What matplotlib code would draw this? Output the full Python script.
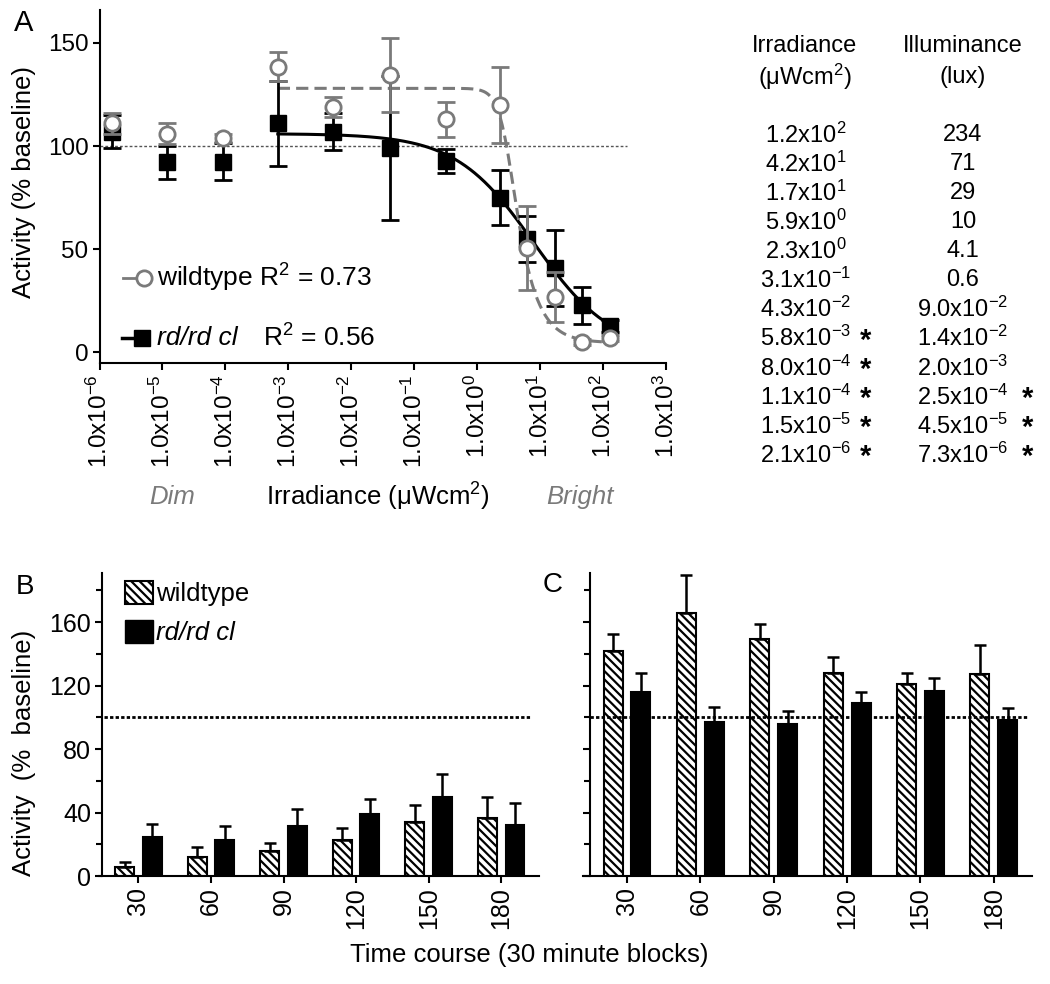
import numpy as np
import matplotlib
matplotlib.use("Agg")
import matplotlib.pyplot as plt
from matplotlib import font_manager
from matplotlib.patches import Patch
from matplotlib.ticker import FixedLocator, NullFormatter, NullLocator

# ---------------- data ----------------
# Panel A: irradiance (x, as plotted), mean activity and error (% baseline)
irradiance = [1.6e-6, 1.2e-5, 9.3e-5, 6.8e-4, 5.2e-3, 4.1e-2, 3.2e-1, 2.3, 6.3, 1.7e1, 4.7e1, 1.29e2]
wt_mean = [111, 106, 104, 138.5, 119, 134.5, 113, 120, 50.4, 26.8, 5, 6.7]
wt_err = [5, 5, 2, 7, 5, 18, 8.5, 18.5, 20.5, 12, 1.5, 1.5]
rd_mean = [107, 92, 92.4, 111, 107, 99, 92.7, 75, 54.8, 40.7, 22.8, 12.6]
rd_err = [8, 8, 9, 20.5, 9, 35, 6, 13.5, 11, 18.5, 9, 3]
# fitted dose-response curves (top, bottom, log EC50, Hill slope, asymmetry)
wt_fit = dict(top=128, bottom=4.5, logec50=0.478, hill=4.0, asym=0.4)
rd_fit = dict(top=106, bottom=0, logec50=0.9, hill=0.7, asym=1.0)
wt_r2 = "0.73"
rd_r2 = "0.56"

table_irr = ["1.2x10$^{2}$", "4.2x10$^{1}$", "1.7x10$^{1}$", "5.9x10$^{0}$", "2.3x10$^{0}$",
             "3.1x10$^{-1}$", "4.3x10$^{-2}$", "5.8x10$^{-3}$", "8.0x10$^{-4}$",
             "1.1x10$^{-4}$", "1.5x10$^{-5}$", "2.1x10$^{-6}$"]
table_lux = ["234", "71", "29", "10", "4.1", "0.6", "9.0x10$^{-2}$", "1.4x10$^{-2}$",
             "2.0x10$^{-3}$", "2.5x10$^{-4}$", "4.5x10$^{-5}$", "7.3x10$^{-6}$"]
irr_star = [False] * 7 + [True] * 5
lux_star = [False] * 9 + [True] * 3

time_blocks = ["30", "60", "90", "120", "150", "180"]
B_wt = [5.9, 12.2, 15.7, 22.7, 34, 36.7]
B_wt_err = [3.1, 5.8, 5.3, 7.3, 10.7, 12.9]
B_rd = [24.4, 22.7, 31.7, 39, 49.6, 31.9]
B_rd_err = [8.4, 8.8, 10.3, 9.3, 14.7, 13.9]
C_wt = [141.8, 165.9, 149.2, 128.2, 121.3, 127.2]
C_wt_err = [10.9, 24.1, 9.4, 9.8, 6.9, 18.4]
C_rd = [116.3, 97.3, 95.8, 109, 116.7, 98.5]
C_rd_err = [11.9, 9.4, 8.0, 6.7, 8.0, 7.4]

# ---------------- fonts ----------------
def has_font(name):
    try:
        font_manager.findfont(font_manager.FontProperties(family=name), fallback_to_default=False)
        return True
    except Exception:
        return False

BASE = "Liberation Sans" if has_font("Liberation Sans") else "DejaVu Sans"
plt.rcParams['font.family'] = [BASE, 'DejaVu Sans']
plt.rcParams['mathtext.fontset'] = 'custom'
plt.rcParams['mathtext.rm'] = BASE
plt.rcParams['mathtext.it'] = BASE + ':italic'
plt.rcParams['mathtext.bf'] = BASE + ':bold'
plt.rcParams['hatch.linewidth'] = 1.6
plt.rcParams['axes.linewidth'] = 1.5

W, H = 1050, 984
fig = plt.figure(figsize=(W / 100, H / 100), dpi=100)

def fx(px):
    return px / W

def fy(py):
    return 1 - py / H

GRAY = '#7a7a7a'

# ---------------- Panel A ----------------
axA = fig.add_axes([fx(99.5), fy(363), fx(566.5), 353 / H])
axA.set_xscale('log')
axA.set_xlim(1e-6, 1e3)
axA.set_ylim(-5.3, 166)
for s in ['top', 'right']:
    axA.spines[s].set_visible(False)

axA.hlines(100, 1e-6, 10 ** 2.38, colors='#555555', linestyles=(0, (2, 1.5)), linewidth=1.0, zorder=1)

def dose_response(logx, p):
    u = 10 ** ((logx - p['logec50']) * p['hill'])
    return p['bottom'] + (p['top'] - p['bottom']) * (1 + u) ** (-p['asym'])

lx = np.linspace(np.log10(irradiance[3]), np.log10(irradiance[-1]) + 0.03, 400)
axA.plot(10 ** lx, dose_response(lx, rd_fit), color='black', lw=2.2, zorder=3)
axA.plot(10 ** lx, dose_response(lx, wt_fit), color=GRAY, lw=2.2, ls=(0, (4, 2)), zorder=3)

axA.errorbar(irradiance, rd_mean, yerr=rd_err, fmt='s', color='black', ms=12,
             capsize=6.5, capthick=2, elinewidth=2, zorder=4)
axA.errorbar(irradiance, wt_mean, yerr=wt_err, fmt='o', color=GRAY, mfc='white', mec=GRAY,
             mew=2, ms=11, capsize=6.5, capthick=2, elinewidth=2, zorder=5)

axA.set_yticks([0, 50, 100, 150])
axA.xaxis.set_major_locator(FixedLocator([10.0 ** k for k in range(-6, 4)]))
axA.xaxis.set_minor_locator(NullLocator())
axA.set_xticklabels([r'1.0x10$^{%d}$' % k for k in range(-6, 4)], rotation=90, fontsize=17.5)
axA.tick_params(axis='both', direction='out', length=5, width=1.5, pad=3)
axA.tick_params(axis='y', labelsize=17.5)

axA.set_ylabel("Activity (% baseline)", fontsize=18.5)
axA.yaxis.set_label_coords(-0.133, 0.513)
axA.yaxis.label.set_verticalalignment('center')

# legend inside A (manual, in axes coordinates)
def ax_x(px):
    return (px - 99.5) / 566.5

def ax_y(py):
    return (363 - py) / 353

yl1, yl2 = ax_y(278), ax_y(338)
axA.plot([ax_x(123), ax_x(144)], [yl1, yl1], transform=axA.transAxes, color=GRAY, lw=2, zorder=6)
axA.plot([ax_x(144)], [yl1], transform=axA.transAxes, marker='o', ms=11, mfc='white', mec=GRAY, mew=2, zorder=7)
axA.text(ax_x(157), yl1, "wildtype R$^{2}$ = " + wt_r2, transform=axA.transAxes, fontsize=19,
         va='center', ha='left')
axA.plot([ax_x(122), ax_x(142)], [yl2, yl2], transform=axA.transAxes, color='black', lw=2.5, zorder=6)
axA.plot([ax_x(142)], [yl2], transform=axA.transAxes, marker='s', ms=12, color='black', zorder=7)
axA.text(ax_x(157), yl2, "rd/rd cl", transform=axA.transAxes, fontsize=19,
         style='italic', va='center', ha='left')
axA.text(ax_x(263), yl2, "R$^{2}$ = " + rd_r2, transform=axA.transAxes, fontsize=19,
         va='center', ha='left')

fig.text(fx(172), fy(497), "Dim", fontsize=18.5, style='italic', color=GRAY, ha='center', va='center')
fig.text(fx(378), fy(497), "Irradiance (\u03bcWcm$^{2}$)", fontsize=18.5, ha='center', va='center')
fig.text(fx(580), fy(497), "Bright", fontsize=18.5, style='italic', color=GRAY, ha='center', va='center')
fig.text(fx(24), fy(23), "A", fontsize=21, ha='center', va='center')

# ---------------- Table ----------------
TFS = 17
fig.text(fx(805), fy(46), "Irradiance", fontsize=TFS, ha='center', va='center')
fig.text(fx(805), fy(77), "(\u03bcWcm$^{2}$)", fontsize=TFS, ha='center', va='center')
fig.text(fx(963), fy(46), "Illuminance", fontsize=TFS, ha='center', va='center')
fig.text(fx(963), fy(77), "(lux)", fontsize=TFS, ha='center', va='center')
for i, (a, b) in enumerate(zip(table_irr, table_lux)):
    y = 135 + 29.1 * i
    fig.text(fx(806), fy(y), a, fontsize=TFS, ha='center', va='center')
    fig.text(fx(963), fy(y), b, fontsize=TFS, ha='center', va='center')
    if irr_star[i]:
        fig.text(fx(866), fy(y + 2), "*", fontsize=21, weight='bold', ha='center', va='center')
    if lux_star[i]:
        fig.text(fx(1028), fy(y + 2), "*", fontsize=21, weight='bold', ha='center', va='center')

# ---------------- Panels B and C ----------------
def bar_panel(ax, wt, wt_e, rd, rd_e, xlim, spine_x, line_span, show_labels):
    x = np.arange(len(time_blocks))
    off, bw = 0.19, 0.26
    ax.bar(x - off, wt, bw, facecolor='white', edgecolor='black', hatch='\\\\\\\\', lw=1.5, zorder=2)
    ax.bar(x + off, rd, bw, color='black', edgecolor='black', lw=1.5, zorder=2)
    ax.errorbar(x - off, wt, yerr=[np.zeros(len(wt)), wt_e], fmt='none', ecolor='black',
                elinewidth=1.8, capsize=4.5, capthick=1.8, zorder=3)
    ax.errorbar(x + off, rd, yerr=[np.zeros(len(rd)), rd_e], fmt='none', ecolor='black',
                elinewidth=1.8, capsize=4.5, capthick=1.8, zorder=3)
    ax.hlines(100, line_span[0], line_span[1], color='black', linestyles=(0, (1.2, 0.8)), lw=2, zorder=4)
    ax.set_xlim(*xlim)
    ax.set_ylim(0, 191)
    for s in ['top', 'right']:
        ax.spines[s].set_visible(False)
    ax.spines['left'].set_position(('data', spine_x))
    ax.set_xticks(x)
    ax.set_xticklabels(time_blocks, rotation=90, fontsize=18)
    ax.set_yticks([0, 40, 80, 120, 160])
    ax.yaxis.set_minor_locator(FixedLocator([20, 60, 100, 140, 180]))
    ax.tick_params(axis='both', which='major', direction='out', length=5, width=1.5, labelsize=18, pad=3)
    ax.tick_params(axis='y', which='minor', direction='out', length=4.5, width=1.5)
    if not show_labels:
        ax.yaxis.set_major_formatter(NullFormatter())

axB = fig.add_axes([fx(98.5), fy(876), fx(440.5), 303 / H])
bar_panel(axB, B_wt, B_wt_err, B_rd, B_rd_err, (-0.55, 5.52), -0.5, (-0.48, 5.41), True)
axB.set_ylabel("Activity  (%  baseline)", fontsize=18.5)
axB.yaxis.set_label_coords(-0.168, 0.405)
axB.yaxis.label.set_verticalalignment('center')
leg = axB.legend(handles=[Patch(facecolor='white', edgecolor='black', hatch='\\\\\\\\', lw=1.5),
                          Patch(facecolor='black', edgecolor='black')],
                 labels=["wildtype", "rd/rd cl"], loc='upper left', bbox_to_anchor=(0.06, 0.975),
                 frameon=False, fontsize=18.5, handlelength=1.1, handleheight=1.0,
                 handletextpad=0.1, labelspacing=0.55, borderpad=0, borderaxespad=0)
leg.get_texts()[1].set_fontstyle('italic')

axC = fig.add_axes([fx(583), fy(876), fx(449), 303 / H])
bar_panel(axC, C_wt, C_wt_err, C_rd, C_rd_err, (-0.6, 5.52), -0.5, (-0.5, 5.46), False)

fig.text(fx(25), fy(587), "B", fontsize=20, ha='center', va='center')
fig.text(fx(553), fy(585), "C", fontsize=20, ha='center', va='center')
fig.text(fx(529), fy(955), "Time course (30 minute blocks)", fontsize=18.5, ha='center', va='center')

fig.savefig("out.png", dpi=100)
